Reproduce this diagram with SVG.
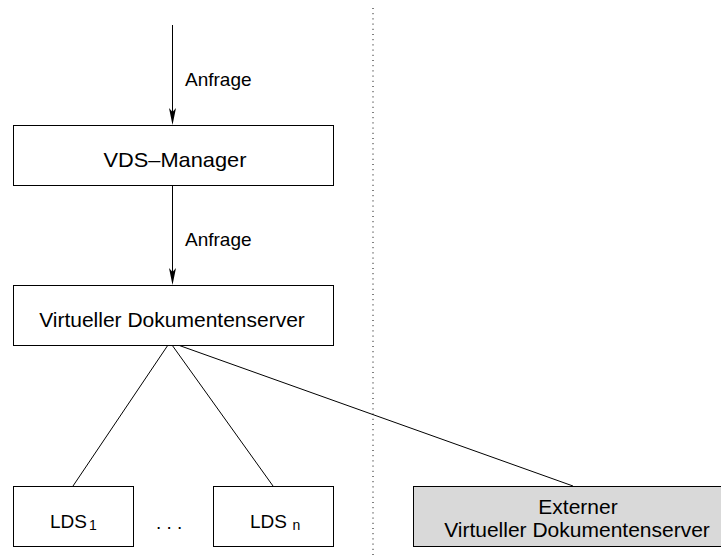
<svg xmlns="http://www.w3.org/2000/svg" width="721" height="559" viewBox="0 0 721 559">
<style>
.box{fill:#fff;stroke:#000;stroke-width:1}
.ext{fill:#d9d9d9;stroke:#000;stroke-width:1}
.t{font-family:"Liberation Sans",Arial,sans-serif;font-size:21px;fill:#000}
.lbl{font-family:"Liberation Sans",Arial,sans-serif;font-size:19px;fill:#000}
.sub{font-family:"Liberation Sans",Arial,sans-serif;font-size:14px;fill:#000}
.ln{stroke:#000;stroke-width:1;fill:none}
.head{fill:#000}
</style>
<line x1="373" y1="8" x2="373" y2="559" stroke="#000" stroke-width="1" stroke-dasharray="1 4.2"/>
<g id="connectors">
<line class="ln" x1="172.5" y1="25" x2="172.5" y2="120"/>
<path class="head" d="M172.5,125 L169,108 L172.5,112 L176,108 Z"/>
<text class="lbl" x="185" y="86">Anfrage</text>
<line class="ln" x1="172.5" y1="185" x2="172.5" y2="280"/>
<path class="head" d="M172.5,285 L169,268 L172.5,272 L176,268 Z"/>
<text class="lbl" x="185" y="246">Anfrage</text>
<line class="ln" x1="168" y1="345" x2="73" y2="486"/>
<line class="ln" x1="172" y1="345" x2="273" y2="486"/>
<line class="ln" x1="178" y1="345" x2="573" y2="486"/>
</g>
<g id="vds-manager">
<rect class="box" x="13.5" y="125.5" width="320" height="60"/>
<text class="t" x="175" y="167" text-anchor="middle" textLength="143" lengthAdjust="spacingAndGlyphs">VDS–Manager</text>
</g>
<g id="vds">
<rect class="box" x="13.5" y="285.5" width="320" height="60"/>
<text class="t" x="172" y="327" text-anchor="middle">Virtueller Dokumentenserver</text>
</g>
<g id="lds1">
<rect class="box" x="13.5" y="486.5" width="120" height="60"/>
<text class="lbl" x="50" y="528">LDS</text>
<text class="sub" x="89" y="529.5">1</text>
</g>
<g id="dots">
<text class="lbl" x="156" y="529">. . .</text>
</g>
<g id="ldsn">
<rect class="box" x="213.5" y="486.5" width="120" height="60"/>
<text class="lbl" x="250" y="528">LDS</text>
<text class="sub" x="292.5" y="529.5">n</text>
</g>
<g id="external">
<rect class="ext" x="413.5" y="486.5" width="320" height="60"/>
<text class="t" x="578" y="514" text-anchor="middle">Externer</text>
<text class="t" x="577" y="537" text-anchor="middle">Virtueller Dokumentenserver</text>
</g>
</svg>
